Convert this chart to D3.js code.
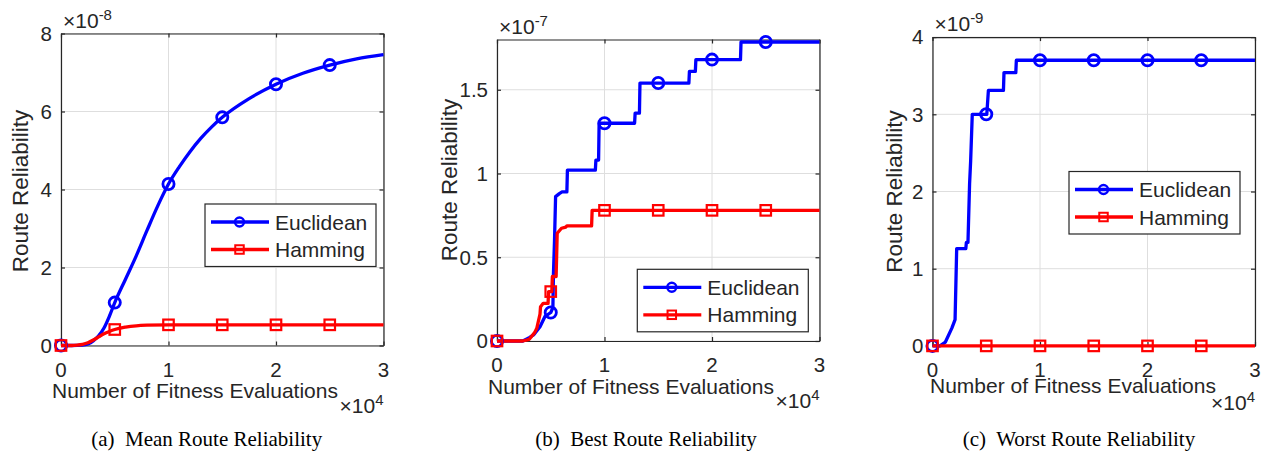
<!DOCTYPE html>
<html>
<head>
<meta charset="utf-8">
<script src="https://cdn.jsdelivr.net/npm/d3@7"></script>
<style>
  html, body { margin: 0; padding: 0; background: #ffffff; }
  svg { display: block; }
  text { font-family: Arial, "Liberation Sans", Helvetica, sans-serif; fill: #262626; }
  .caption { font-family: "Times New Roman", "Liberation Serif", serif; fill: #000; white-space: pre; }
</style>
</head>
<body>
<svg id="chart" width="1271" height="451"></svg>
<script>
// ---- Data -----------------------------------------------------------
// x: number of fitness evaluations; y: route reliability in units of the
// exponent printed above each axis (1e-8, 1e-7, 1e-9).
const seriesNames = ["Euclidean", "Hamming"];
const seriesColors = ["#0000ff", "#ff0000"];

const xTickValues = [0, 10000, 20000, 30000];
const xTickLabels = ["0", "1", "2", "3"];
const markerEvaluations = [0, 5000, 10000, 15000, 20000, 25000];

// (a) Mean route reliability, x 1e-8
const meanYTicks = [0, 2, 4, 6, 8];
const meanYTickLabels = ["0", "2", "4", "6", "8"];
const meanEuclideanX = [0, 1000, 2000, 2500, 3000, 3500, 4000, 4500, 5000, 6000, 7000, 8000, 9000, 10000,
                        11000, 12000, 13000, 14000, 15000, 17500, 20000, 22500, 25000, 27500, 30000];
const meanEuclideanY = [0, 0, 0.01, 0.04, 0.12, 0.25, 0.45, 0.75, 1.1, 1.7, 2.3, 2.95, 3.58, 4.14,
                        4.58, 4.97, 5.31, 5.6, 5.85, 6.33, 6.7, 6.98, 7.19, 7.35, 7.46];
const meanHammingX = [0, 1000, 1500, 2000, 2500, 3000, 3500, 4000, 4500, 5000, 6000, 7000, 8000, 10000,
                      15000, 20000, 25000, 30000];
const meanHammingY = [0, 0, 0.01, 0.03, 0.07, 0.14, 0.22, 0.3, 0.36, 0.41, 0.47, 0.505, 0.52, 0.53,
                      0.53, 0.53, 0.53, 0.53];

// (b) Best route reliability, x 1e-7
const bestYTicks = [0, 0.5, 1, 1.5];
const bestYTickLabels = ["0", "0.5", "1", "1.5"];
const bestEuclideanX = [0, 2400, 3000, 3400, 4000, 4450, 5000, 5200, 5250, 5350, 5450, 5800, 6050, 6500,
                        6550, 9150, 9200, 9450, 9500, 12800, 12850, 13250, 13300, 17850, 17900, 18450,
                        18500, 22650, 22700, 30000];
const bestEuclideanY = [0, 0, 0.02, 0.036, 0.085, 0.145, 0.17, 0.2, 0.4, 0.6, 0.862, 0.88, 0.89, 0.89,
                        1.02, 1.02, 1.08, 1.08, 1.30, 1.30, 1.36, 1.36, 1.54, 1.54, 1.61, 1.61,
                        1.68, 1.68, 1.785, 1.785];
const bestHammingX = [0, 2400, 3000, 3500, 3700, 4000, 4050, 4300, 4750, 4800, 5100, 5150, 5500, 5600,
                      6000, 6400, 6500, 8800, 8850, 30000];
const bestHammingY = [0, 0, 0.01, 0.05, 0.076, 0.16, 0.205, 0.225, 0.225, 0.295, 0.295, 0.385, 0.385, 0.643,
                      0.673, 0.68, 0.687, 0.687, 0.78, 0.78];

// (c) Worst route reliability, x 1e-9
const worstYTicks = [0, 1, 2, 3, 4];
const worstYTickLabels = ["0", "1", "2", "3", "4"];
const worstEuclideanX = [0, 700, 1200, 1800, 2100, 2250, 3100, 3150, 3300, 3450, 3550, 3700, 5050, 5200,
                         6600, 6650, 7750, 7800, 30000];
const worstEuclideanY = [0, 0, 0.05, 0.23, 0.34, 1.26, 1.26, 1.34, 1.34, 2.1, 2.4, 3.0, 3.0, 3.31,
                         3.31, 3.54, 3.54, 3.70, 3.70];
const worstHammingX = [0, 30000];
const worstHammingY = [0, 0];

const exponents = ["-8", "-7", "-9"];
const captions = ["(a)  Mean Route Reliability", "(b)  Best Route Reliability", "(c)  Worst Route Reliability"];
const xLabelText = "Number of Fitness Evaluations";
const yLabelText = "Route Reliability";

// ---- Layout ---------------------------------------------------------
const panels = [
  { left: 61, right: 383.5, top: 33.5, bottom: 345.5, yMax: 8,
    yTicks: meanYTicks, yTickLabels: meanYTickLabels, smooth: true,
    series: [[meanEuclideanX, meanEuclideanY], [meanHammingX, meanHammingY]],
    legend: { x: 205, y: 204 }, yLabel: { x: 28.3, y: 191 }, xLabel: { x: 195, y: 398 },
    bottomExp: 413, captionX: 206.7 },
  { left: 497, right: 819.5, top: 39.5, bottom: 341, yMax: 1.8,
    yTicks: bestYTicks, yTickLabels: bestYTickLabels, smooth: false,
    series: [[bestEuclideanX, bestEuclideanY], [bestHammingX, bestHammingY]],
    legend: { x: 637.3, y: 269.3 }, yLabel: { x: 456.7, y: 180 }, xLabel: { x: 631, y: 394 },
    bottomExp: 407.5, captionX: 646 },
  { left: 932.5, right: 1255, top: 37.1, bottom: 345.9, yMax: 4,
    yTicks: worstYTicks, yTickLabels: worstYTickLabels, smooth: false,
    series: [[worstEuclideanX, worstEuclideanY], [worstHammingX, worstHammingY]],
    legend: { x: 1069, y: 171.5 }, yLabel: { x: 901.7, y: 191.5 }, xLabel: { x: 1073, y: 393.3 },
    bottomExp: 409.5, captionX: 1079 }
];

const axisColor = "#262626";
const gridColor = "#dedede";
const tickLen = 4;

const svg = d3.select("#chart");

// linear interpolation along a polyline, used to place the markers
function valueAt(xs, ys, x) {
  for (let i = 0; i < xs.length - 1; i++) {
    if (x >= xs[i] && x <= xs[i + 1]) {
      if (xs[i + 1] === xs[i]) return ys[i + 1];
      const t = (x - xs[i]) / (xs[i + 1] - xs[i]);
      return ys[i] + t * (ys[i + 1] - ys[i]);
    }
  }
  return ys[ys.length - 1];
}

function drawMarker(g, kind, cx, cy, color, size) {
  if (kind === 0) {
    g.append("circle").attr("cx", cx).attr("cy", cy).attr("r", size.r)
      .attr("fill", "none").attr("stroke", color).attr("stroke-width", size.sw);
  } else {
    g.append("rect").attr("x", cx - size.s / 2).attr("y", cy - size.s / 2)
      .attr("width", size.s).attr("height", size.s)
      .attr("fill", "none").attr("stroke", color).attr("stroke-width", size.sw2);
  }
}

panels.forEach((p, pi) => {
  const x = d3.scaleLinear().domain([0, 30000]).range([p.left, p.right]);
  const y = d3.scaleLinear().domain([0, p.yMax]).range([p.bottom, p.top]);
  const g = svg.append("g");

  // grid
  g.append("g").selectAll("line").data(xTickValues).join("line")
    .attr("x1", d => x(d)).attr("x2", d => x(d)).attr("y1", p.top).attr("y2", p.bottom)
    .attr("stroke", gridColor).attr("stroke-width", 1);
  g.append("g").selectAll("line").data(p.yTicks).join("line")
    .attr("x1", p.left).attr("x2", p.right).attr("y1", d => y(d)).attr("y2", d => y(d))
    .attr("stroke", gridColor).attr("stroke-width", 1);

  // axes (ticks point inward, mirrored on the top and right)
  const xAxis = d3.axisBottom(x).tickValues(xTickValues).tickFormat("").tickSizeInner(-tickLen).tickSizeOuter(0);
  const xAxisTop = d3.axisTop(x).tickValues(xTickValues).tickFormat("").tickSizeInner(-tickLen).tickSizeOuter(0);
  const yAxis = d3.axisLeft(y).tickValues(p.yTicks).tickFormat("").tickSizeInner(-tickLen).tickSizeOuter(0);
  const yAxisRight = d3.axisRight(y).tickValues(p.yTicks).tickFormat("").tickSizeInner(-tickLen).tickSizeOuter(0);
  [[xAxis, `translate(0,${p.bottom})`], [xAxisTop, `translate(0,${p.top})`],
   [yAxis, `translate(${p.left},0)`], [yAxisRight, `translate(${p.right},0)`]].forEach(([ax, tr]) => {
    const a = g.append("g").attr("transform", tr).call(ax);
    a.selectAll("path,line").attr("stroke", axisColor).attr("stroke-width", 1.2);
  });

  // tick labels
  g.append("g").selectAll("text").data(xTickValues).join("text")
    .attr("x", d => x(d)).attr("y", p.bottom + 31).attr("text-anchor", "middle")
    .attr("font-size", 20.5).text((d, i) => xTickLabels[i]);
  g.append("g").selectAll("text").data(p.yTicks).join("text")
    .attr("x", p.left - 9).attr("y", d => y(d)).attr("dy", "0.36em").attr("text-anchor", "end")
    .attr("font-size", 20.5).text((d, i) => p.yTickLabels[i]);

  // exponent labels
  const te = g.append("text").attr("x", p.left + 2).attr("y", p.top - 6).attr("font-size", 21);
  te.append("tspan").text("\u00d710");
  te.append("tspan").attr("dy", -8).attr("font-size", 15).text(exponents[pi]);
  const be = g.append("text").attr("x", p.right).attr("y", p.bottomExp).attr("font-size", 21)
    .attr("text-anchor", "end");
  be.append("tspan").text("\u00d710");
  be.append("tspan").attr("dy", -8).attr("font-size", 15).text("4");

  // axis labels
  g.append("text").attr("x", p.xLabel.x).attr("y", p.xLabel.y).attr("text-anchor", "middle")
    .attr("font-size", 21).text(xLabelText);
  g.append("text").attr("transform", `translate(${p.yLabel.x},${p.yLabel.y}) rotate(-90)`)
    .attr("text-anchor", "middle").attr("font-size", 22.5).text(yLabelText);

  // series lines and markers
  const line = d3.line().x(d => x(d[0])).y(d => y(d[1]))
    .curve(p.smooth ? d3.curveMonotoneX : d3.curveLinear);
  p.series.forEach(([xs, ys], si) => {
    const pts = xs.map((v, i) => [v, ys[i]]);
    g.append("path").datum(pts).attr("d", line).attr("fill", "none")
      .attr("stroke", seriesColors[si]).attr("stroke-width", 3.3).attr("stroke-linejoin", "round");
  });
  p.series.forEach(([xs, ys], si) => {
    const mg = g.append("g");
    markerEvaluations.forEach(ev => {
      drawMarker(mg, si, x(ev), y(valueAt(xs, ys, ev)), seriesColors[si], { r: 5.6, sw: 2.8, s: 10.5, sw2: 2.2 });
    });
  });

  // legend
  const lw = 171, lh = 62.5;
  const lg = g.append("g").attr("transform", `translate(${p.legend.x},${p.legend.y})`);
  lg.append("rect").attr("width", lw).attr("height", lh).attr("fill", "#ffffff")
    .attr("stroke", axisColor).attr("stroke-width", 1.2);
  seriesNames.forEach((name, si) => {
    const ry = si === 0 ? 18 : 45.5;
    lg.append("line").attr("x1", 6).attr("x2", 64).attr("y1", ry).attr("y2", ry)
      .attr("stroke", seriesColors[si]).attr("stroke-width", 3.3);
    drawMarker(lg, si, 34.5, ry, seriesColors[si], { r: 4.5, sw: 2.4, s: 8.5, sw2: 2 });
    lg.append("text").attr("x", 70).attr("y", ry).attr("dy", "0.36em").attr("font-size", 21)
      .attr("fill", "#000").text(name);
  });

  // sub-figure caption
  svg.append("text").attr("class", "caption").attr("x", p.captionX).attr("y", 446)
    .attr("text-anchor", "middle").attr("font-size", 21).text(captions[pi]);
});
</script>
</body>
</html>
